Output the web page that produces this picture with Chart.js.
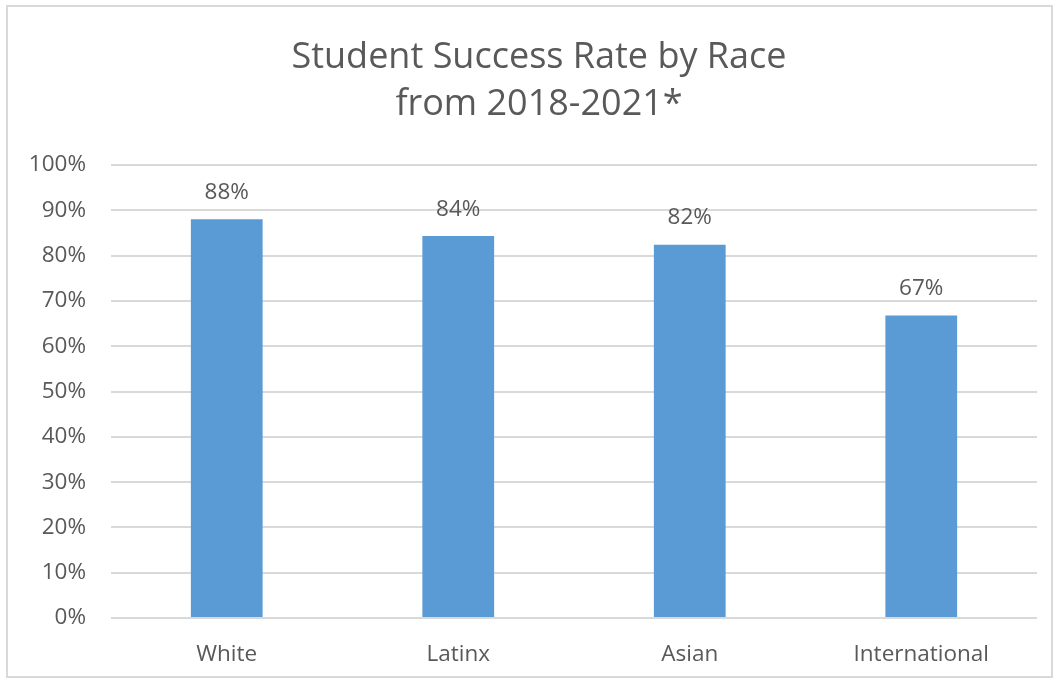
<!DOCTYPE html>
<html lang="en">
<head>
    <meta charset="UTF-8">
    <title>Student Success Rate by Race</title>
    <script src="https://cdn.jsdelivr.net/npm/chart.js"></script>
    <style>
        html, body { margin: 0; padding: 0; background: #fff; }
        #wrap { position: relative; width: 1059px; height: 683px; }
        #frame { position: absolute; left: 6px; top: 5px; width: 1047px; height: 673px; border: 2px solid #d9d9d9; box-sizing: border-box; pointer-events: none; }
    </style>
</head>
<body>
    <div id="wrap">
        <canvas id="successChart" width="1059" height="683"></canvas>
        <div id="frame"></div>
    </div>

    <script>
        // Chart data
        const titleLines = ['Student Success Rate by Race', 'from 2018-2021*'];
        const groups = ['White', 'Latinx', 'Asian', 'International'];
        const successRates = [88, 84.3, 82.4, 66.8];
        const rateLabels = ['88%', '84%', '82%', '67%'];

        const textColor = '#595959';
        const fontFamily = '"Open Sans", "Noto Sans", sans-serif';

        // Title is drawn by hand so it can sit a bit right of the canvas centre
        const offsetTitle = {
            id: 'offsetTitle',
            afterDraw(chart) {
                const ctx = chart.ctx;
                ctx.save();
                ctx.fillStyle = textColor;
                ctx.font = '36px ' + fontFamily;
                ctx.textAlign = 'center';
                ctx.textBaseline = 'middle';
                titleLines.forEach((line, i) => {
                    ctx.fillText(line, 539, 57.5 + i * 47);
                });
                ctx.restore();
            }
        };

        // Draw value labels above each bar
        const valueLabels = {
            id: 'valueLabels',
            afterDatasetsDraw(chart) {
                const ctx = chart.ctx;
                const meta = chart.getDatasetMeta(0);
                ctx.save();
                ctx.fillStyle = textColor;
                ctx.font = '22.5px ' + fontFamily;
                ctx.textAlign = 'center';
                ctx.textBaseline = 'middle';
                meta.data.forEach((bar, i) => {
                    ctx.fillText(rateLabels[i], bar.x, bar.y - 27);
                });
                ctx.restore();
            }
        };

        new Chart(document.getElementById('successChart'), {
            type: 'bar',
            data: {
                labels: groups,
                datasets: [{
                    data: successRates,
                    backgroundColor: '#5b9bd5',
                    borderWidth: 0,
                    categoryPercentage: 1,
                    barPercentage: 0.31
                }]
            },
            options: {
                responsive: false,
                animation: false,
                layout: { padding: { left: 0, right: 22, top: 165, bottom: 0 } },
                plugins: {
                    legend: { display: false },
                    tooltip: { enabled: false },
                    title: { display: false }
                },
                scales: {
                    x: {
                        afterFit(scale) { scale.height = 65; },
                        grid: { display: false },
                        border: { display: false },
                        ticks: {
                            color: textColor,
                            font: { family: fontFamily, size: 22.5 },
                            padding: 15.5
                        }
                    },
                    y: {
                        min: 0,
                        max: 100,
                        afterFit(scale) { scale.width = 111; },
                        grid: { color: '#d9d9d9', lineWidth: 2, drawTicks: false },
                        border: { display: false },
                        ticks: {
                            stepSize: 10,
                            color: textColor,
                            font: { family: fontFamily, size: 22.5 },
                            padding: 25,
                            callback: v => v + '%'
                        }
                    }
                }
            },
            plugins: [valueLabels, offsetTitle]
        });
    </script>
</body>
</html>
